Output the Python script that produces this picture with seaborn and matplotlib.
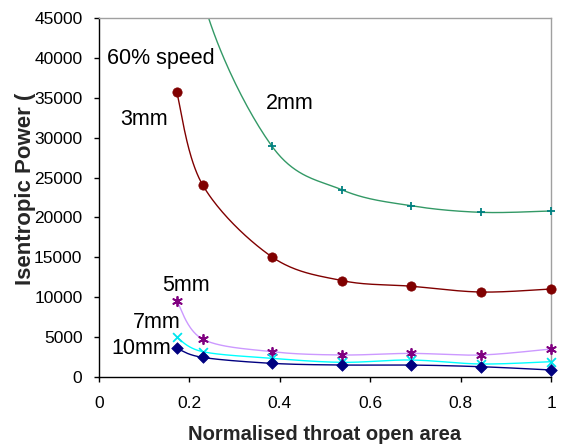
import numpy as np
import pandas as pd
import matplotlib
matplotlib.use("Agg")
import matplotlib.pyplot as plt
import seaborn as sns

# Normalised throat open area (shared by every series)
open_area = [0.172, 0.229, 0.383, 0.538, 0.690, 0.845, 1.0]

# Isentropic power at 60% speed for each gap size
power_2mm = [72000, 47500, 28900, 23450, 21470, 20640, 20810]
power_3mm = [35700, 24100, 15040, 12080, 11380, 10650, 11030]
power_5mm = [9560, 4760, 3170, 2760, 2960, 2760, 3510]
power_7mm = [4970, 3180, 2340, 1840, 2130, 1630, 1920]
power_10mm = [3590, 2460, 1710, 1500, 1500, 1290, 880]

series_names = ["2mm", "3mm", "5mm", "7mm", "10mm"]
series_values = [power_2mm, power_3mm, power_5mm, power_7mm, power_10mm]

line_colors = ["#339966", "#800000", "#CC99FF", "#00FFFF", "#000080"]
marker_colors = ["#008080", "#800000", "#800080", "#00E5EE", "#000080"]
marker_shapes = ["+", "o", (6, 2, 0), "x", "D"]
marker_sizes = [40, 45, 45, 40, 35]

x_ticks = [0, 0.2, 0.4, 0.6, 0.8, 1]
x_tick_labels = ["0", "0.2", "0.4", "0.6", "0.8", "1"]
y_ticks = list(range(0, 45001, 5000))

# Series labels placed next to the curves: (text, x, y)
curve_labels = [
    ("60% speed", 0.137, 39900),
    ("3mm", 0.100, 32300),
    ("2mm", 0.423, 34300),
    ("5mm", 0.192, 11500),
    ("7mm", 0.128, 6800),
    ("10mm", 0.094, 3550),
]


def smooth_curve(xs, ys, n=40):
    """Piecewise cubic Bezier through the points (Catmull-Rom style)."""
    pts = np.column_stack([xs, ys]).astype(float)
    padded = np.vstack([pts[0], pts, pts[-1]])
    t = np.linspace(0, 1, n)[:, None]
    segs = []
    for i in range(1, len(padded) - 2):
        p0, p1, p2, p3 = padded[i - 1], padded[i], padded[i + 1], padded[i + 2]
        c1 = p1 + (p2 - p0) / 6
        c2 = p2 - (p3 - p1) / 6
        seg = ((1 - t) ** 3 * p1 + 3 * (1 - t) ** 2 * t * c1
               + 3 * (1 - t) * t ** 2 * c2 + t ** 3 * p2)
        segs.append(seg if i == 1 else seg[1:])
    return np.vstack(segs)


sns.set_style("ticks")
plt.rcParams["font.family"] = ["Liberation Sans", "DejaVu Sans"]

fig = plt.figure(figsize=(5.61, 4.47), dpi=100)
ax = fig.add_axes([99 / 561, 1 - 377 / 447, 452 / 561, 359 / 447])

rows = []
for name, vals in zip(series_names, series_values):
    curve = smooth_curve(open_area, vals)
    for cx, cy in curve:
        rows.append({"area": cx, "power": cy, "gap": name})
curves = pd.DataFrame(rows)

sns.lineplot(data=curves, x="area", y="power", hue="gap",
             hue_order=series_names, palette=line_colors,
             sort=False, estimator=None, units="gap",
             linewidth=1.0, legend=False, ax=ax)

for name, vals, mc, ms, sz in zip(series_names, series_values,
                                  marker_colors, marker_shapes, marker_sizes):
    pts = pd.DataFrame({"area": open_area, "power": vals})
    pts = pts[pts["power"] <= 45000]
    kw = dict(color=mc, s=sz, zorder=5, clip_on=False, ax=ax, legend=False)
    if ms in ("o", "D"):
        kw.update(edgecolor=mc, linewidth=0.5)
    else:
        kw.update(linewidth=1.3)
    sns.scatterplot(data=pts, x="area", y="power", marker=ms, **kw)

ax.set_xlim(0, 1)
ax.set_ylim(0, 45000)
ax.set_xticks(x_ticks)
ax.set_xticklabels(x_tick_labels)
ax.set_yticks(y_ticks)
ax.set_yticklabels([str(v) for v in y_ticks])
ax.tick_params(direction="out", length=3.6, width=1, colors="black",
               labelsize=12.5)
ax.tick_params(axis="y", pad=8.3)
ax.tick_params(axis="x", pad=10)

for side in ("left", "bottom"):
    ax.spines[side].set_color("black")
    ax.spines[side].set_linewidth(1.0)
for side in ("top", "right"):
    ax.spines[side].set_visible(True)
    ax.spines[side].set_color("#A0A0A0")
    ax.spines[side].set_linewidth(1.0)

ax.set_xlabel("")
ax.set_ylabel("")
fig.text(325 / 561, 1 - 434 / 447, "Normalised throat open area",
         ha="center", va="center", fontsize=14.5, fontweight="bold")
fig.text(26 / 561, 1 - 189 / 447, "Isentropic Power (",
         ha="center", va="center", rotation=90, fontsize=16,
         fontweight="bold")

for text, tx, ty in curve_labels:
    ax.text(tx, ty, text, fontsize=15.5, ha="center", va="center",
            color="black")

fig.savefig("out.png", dpi=100)
